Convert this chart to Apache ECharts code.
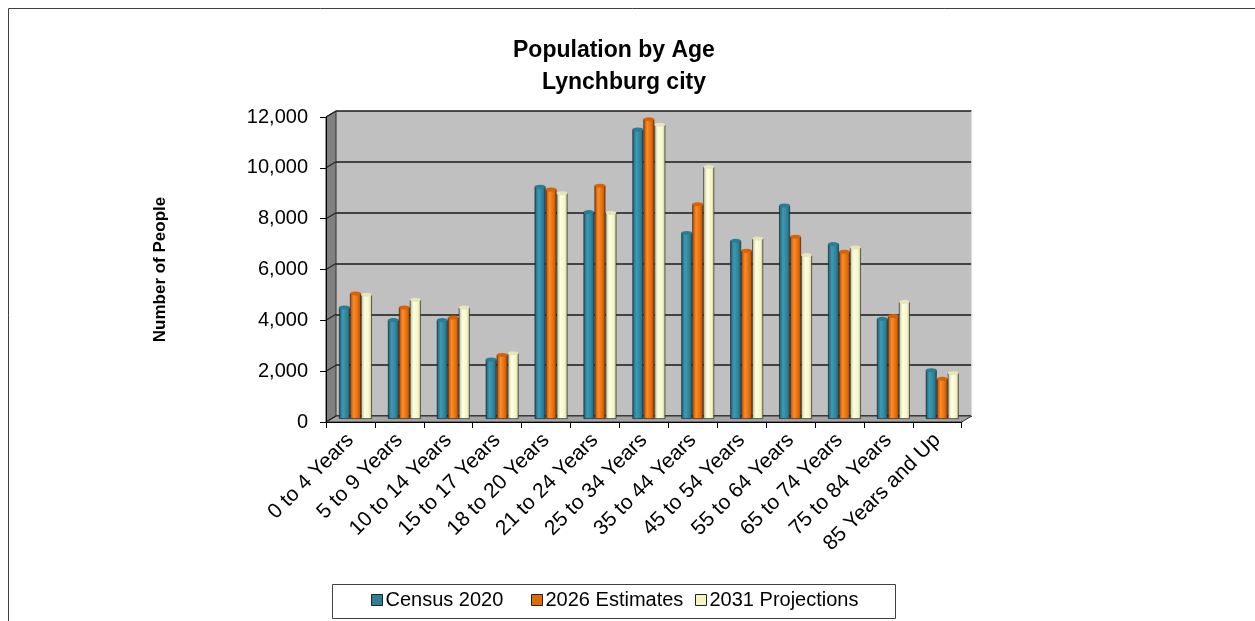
<!DOCTYPE html>
<html>
<head>
<meta charset="utf-8">
<title>Population by Age - Lynchburg city</title>
<script src="https://cdn.jsdelivr.net/npm/echarts@6/dist/echarts.min.js"></script>
<style>
  html, body { margin: 0; padding: 0; background: #ffffff; }
  #chart { width: 1255px; height: 621px; }
</style>
</head>
<body>
<div id="chart"></div>
<script>
// Age groups along the category axis
const categories = [
  '0 to 4 Years', '5 to 9 Years', '10 to 14 Years', '15 to 17 Years',
  '18 to 20 Years', '21 to 24 Years', '25 to 34 Years', '35 to 44 Years',
  '45 to 54 Years', '55 to 64 Years', '65 to 74 Years', '75 to 84 Years',
  '85 Years and Up'
];

// Population counts per age group
const census2020 = [4400, 3900, 3900, 2350, 9150, 8150, 11400, 7330, 7020, 8410, 6890, 3950, 1930];
const estimates2026 = [4950, 4400, 4000, 2530, 9040, 9190, 11800, 8460, 6630, 7180, 6590, 4060, 1590];
const projections2031 = [4900, 4700, 4400, 2600, 8890, 8120, 11590, 9930, 7110, 6460, 6760, 4620, 1820];

const seriesNames = ['Census 2020', '2026 Estimates', '2031 Projections'];

// Value axis ticks
const yMin = 0;
const yMax = 12000;
const yStep = 2000;

// Plot box geometry (front plane) and the depth offset of the 3D box
const FRONT = { left: 326, top: 117, width: 635.7, height: 305 };
const DEPTH = { dx: 10, dy: -6 };
const FONT = '"Liberation Sans", Arial, sans-serif';

// Legend box and the left edge of each legend entry
const LEGEND_BOX = { x: 332.5, y: 584.5, width: 563, height: 34 };
const LEGEND_LEFT = [371, 531, 695];

// Cylinder shading per series
const palette = [
  { dark: '#1c5a6c', light: '#3b9bb6', mid: '#2e8098', cap: '#2a7d95' },
  { dark: '#a94800', light: '#ff8c26', mid: '#e06a08', cap: '#d86206' },
  { dark: '#bdbd90', light: '#ffffe6', mid: '#f4f4c4', cap: '#e6e6b8' }
];

function cylinderFill(p) {
  return new echarts.graphic.LinearGradient(0, 0, 1, 0, [
    { offset: 0, color: p.dark },
    { offset: 0.35, color: p.light },
    { offset: 0.75, color: p.mid },
    { offset: 1, color: p.dark }
  ]);
}

const seriesData = [census2020, estimates2026, projections2031];

const gridFront = { left: FRONT.left, top: FRONT.top, width: FRONT.width, height: FRONT.height };
const gridBack = {
  left: FRONT.left + DEPTH.dx, top: FRONT.top + DEPTH.dy,
  width: FRONT.width, height: FRONT.height,
  show: true, backgroundColor: '#c0c0c0', borderWidth: 0
};
const gridMid = {
  left: FRONT.left + DEPTH.dx / 2, top: FRONT.top + DEPTH.dy / 2,
  width: FRONT.width, height: FRONT.height
};

// Side wall, floor, side-wall grid lines, legend box and outer frame
function boxGraphics() {
  const L = FRONT.left, T = FRONT.top, B = FRONT.top + FRONT.height, R = FRONT.left + FRONT.width;
  const dx = DEPTH.dx, dy = DEPTH.dy;
  const items = [
    {
      type: 'polygon', z: 1, silent: true,
      shape: { points: [[L, T], [L + dx, T + dy], [L + dx, B + dy], [L, B]] },
      style: { fill: '#808080', stroke: '#333', lineWidth: 1 }
    },
    {
      type: 'polygon', z: 1, silent: true,
      shape: { points: [[L, B], [L + dx, B + dy], [R + dx, B + dy], [R, B]] },
      style: { fill: '#a6a6a6', stroke: '#333', lineWidth: 1 }
    },
    {
      type: 'line', z: 1, silent: true,
      shape: { x1: R + dx, y1: T + dy, x2: R + dx, y2: B + dy },
      style: { stroke: '#e0e0e0', lineWidth: 1 }
    }
  ];
  for (let v = yMin; v <= yMax; v += yStep) {
    const y = B - (v - yMin) / (yMax - yMin) * FRONT.height;
    items.push({
      type: 'line', z: 1, silent: true,
      shape: { x1: L, y1: y, x2: L + dx, y2: y + dy },
      style: { stroke: '#222', lineWidth: 1.2 }
    });
  }
  items.push({
    type: 'rect', z: 0, silent: true,
    shape: LEGEND_BOX,
    style: { fill: '#fff', stroke: '#404040', lineWidth: 1 }
  });
  items.push({
    type: 'rect', z: 0, silent: true,
    shape: { x: 8.5, y: 8.5, width: 1400, height: 800 },
    style: { fill: null, stroke: '#404040', lineWidth: 1 }
  });
  return items;
}

const bars = seriesData.map((data, i) => ({
  name: seriesNames[i],
  type: 'bar',
  xAxisIndex: 2, yAxisIndex: 2,
  barWidth: 11, barGap: '0%',
  z: 3,
  data: data,
  itemStyle: { color: cylinderFill(palette[i]), borderColor: 'rgba(20,20,20,0.75)', borderWidth: 0.8 }
}));

const caps = seriesData.map((data, i) => ({
  name: seriesNames[i] + ' cap',
  type: 'pictorialBar',
  xAxisIndex: 2, yAxisIndex: 2,
  barWidth: 11, barGap: '0%',
  z: 4,
  symbol: 'path://M0 5 A10 5 0 1 0 20 5 A10 5 0 1 0 0 5 Z',
  symbolSize: [11, 4],
  symbolPosition: 'end',
  symbolOffset: [0, '-50%'],
  data: data,
  itemStyle: { color: palette[i].cap, borderColor: 'rgba(20,20,20,0.8)', borderWidth: 0.8 }
}));

// One legend per entry so each sits at its own spot inside the box
const legends = seriesNames.map((n, i) => ({
  left: LEGEND_LEFT[i], top: 590, padding: 0,
  itemWidth: 11, itemHeight: 11,
  selectedMode: false,
  textStyle: { fontFamily: FONT, fontSize: 20, color: '#000', padding: [0, 0, 0, -2] },
  data: [{ name: n, icon: 'rect', itemStyle: { color: palette[i].mid, borderColor: '#222', borderWidth: 1 } }]
}));

const option = {
  animation: false,
  backgroundColor: '#ffffff',
  textStyle: { fontFamily: FONT, color: '#000' },
  title: [
    { text: 'Population by Age', left: 513, top: 39, padding: 0,
      textStyle: { fontFamily: FONT, fontSize: 23, fontWeight: 'bold', color: '#000' } },
    { text: 'Lynchburg city', left: 542, top: 71, padding: 0,
      textStyle: { fontFamily: FONT, fontSize: 23, fontWeight: 'bold', color: '#000' } }
  ],
  legend: legends,
  grid: [gridFront, gridBack, gridMid],
  xAxis: [
    {
      gridIndex: 0, type: 'category', data: categories, z: 5,
      axisLine: { lineStyle: { color: '#000', width: 1 } },
      axisTick: { show: true, alignWithLabel: false, length: 6, lineStyle: { color: '#000' } },
      axisLabel: { rotate: 45, margin: 15, interval: 0, fontFamily: FONT, fontSize: 21, color: '#000' }
    },
    { gridIndex: 1, type: 'category', data: categories, show: false },
    { gridIndex: 2, type: 'category', data: categories, show: false }
  ],
  yAxis: [
    {
      gridIndex: 0, type: 'value', min: yMin, max: yMax, interval: yStep, z: 5,
      name: 'Number of People', nameLocation: 'middle', nameGap: 157, nameRotate: 90,
      nameTextStyle: { fontFamily: FONT, fontSize: 17, fontWeight: 'bold', color: '#000' },
      axisLine: { show: true, lineStyle: { color: '#000', width: 1 } },
      axisTick: { show: true, length: 6, lineStyle: { color: '#000' } },
      axisLabel: {
        margin: 18, fontFamily: FONT, fontSize: 20, color: '#000',
        formatter: v => v.toLocaleString('en-US')
      },
      splitLine: { show: false }
    },
    {
      gridIndex: 1, type: 'value', min: yMin, max: yMax, interval: yStep,
      axisLine: { show: false }, axisTick: { show: false }, axisLabel: { show: false },
      splitLine: { show: true, lineStyle: { color: '#1a1a1a', width: 1.5 } }
    },
    { gridIndex: 2, type: 'value', min: yMin, max: yMax, show: false, splitLine: { show: false } }
  ],
  graphic: boxGraphics(),
  series: bars.concat(caps)
};

const chart = echarts.init(document.getElementById('chart'), null, { renderer: 'canvas' });
chart.setOption(option);
</script>
</body>
</html>
